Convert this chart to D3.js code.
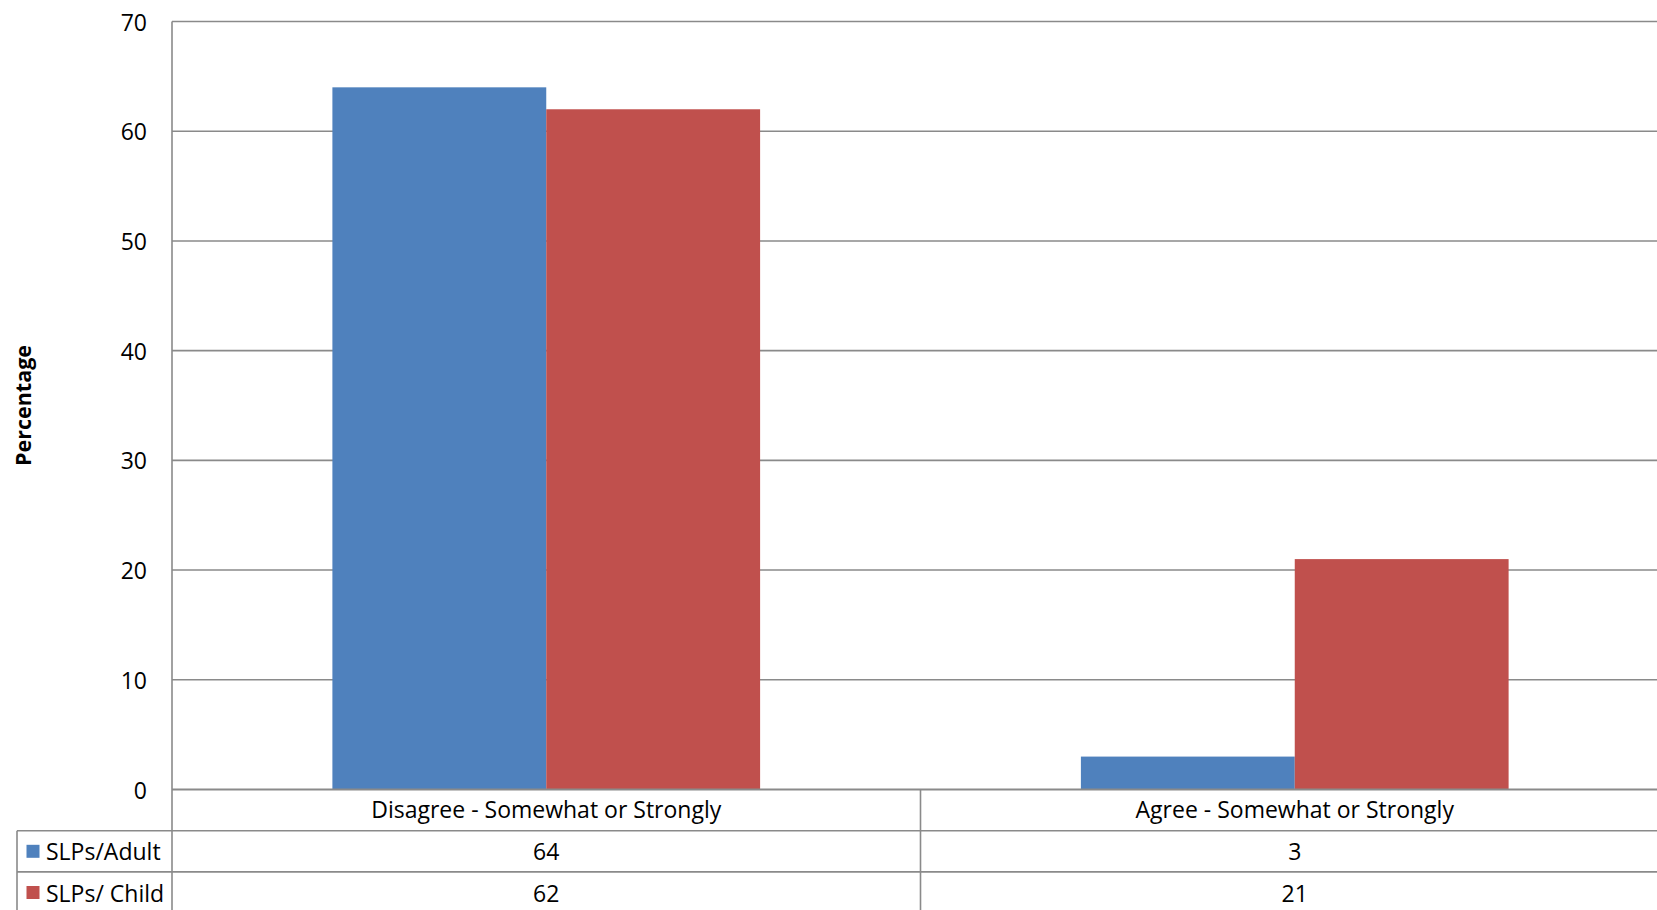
<!DOCTYPE html>
<html>
<head>
<meta charset="utf-8">
<script src="https://cdn.jsdelivr.net/npm/d3@7"></script>
<style>
  html, body { margin: 0; padding: 0; background: #fff; }
  svg { display: block; }
  text { font-family: "Open Sans", "Noto Sans", sans-serif; fill: #000; }
</style>
</head>
<body>
<svg id="chart" width="1657" height="910"></svg>
<script>
// ---- data ----
const categories = ["Disagree - Somewhat or Strongly", "Agree - Somewhat or Strongly"];
const seriesNames = ["SLPs/Adult", "SLPs/ Child"];
const adultValues = [64, 3];
const childValues = [62, 21];
const seriesColors = ["#4F81BD", "#C0504D"];
const yTicks = [0, 10, 20, 30, 40, 50, 60, 70];
const yLabel = "Percentage";

const seriesValues = [adultValues, childValues];

// ---- layout ----
const W = 1657, H = 910;
const plotLeft = 172, plotRight = 1669, plotTop = 21.5, plotBottom = 789.5;
const rowH = 41.2;
const tableLeft = 17;
const fontSize = 23;
const gridColor = "#8a8a8a";

const svg = d3.select("#chart");

const x = d3.scaleBand().domain(categories).range([plotLeft, plotRight]).paddingInner(0).paddingOuter(0);
const xs = d3.scaleBand().domain(seriesNames).range([0, x.bandwidth()]).paddingInner(0).paddingOuter(0.75);
const y = d3.scaleLinear().domain([0, 70]).range([plotBottom, plotTop]);

// gridlines
svg.append("g").selectAll("line").data(yTicks.filter(d => d > 0)).join("line")
  .attr("x1", plotLeft).attr("x2", plotRight)
  .attr("y1", d => y(d)).attr("y2", d => y(d))
  .attr("stroke", gridColor).attr("stroke-width", 1.6);

// bars
const groups = svg.append("g").selectAll("g").data(categories).join("g")
  .attr("transform", d => `translate(${x(d)},0)`);
groups.selectAll("rect").data((c, i) => seriesNames.map((s, j) => ({s, v: seriesValues[j][i], j})))
  .join("rect")
  .attr("x", d => xs(d.s)).attr("width", xs.bandwidth())
  .attr("y", d => y(d.v)).attr("height", d => y(0) - y(d.v))
  .attr("fill", d => seriesColors[d.j]);

// y axis tick labels
svg.append("g").selectAll("text").data(yTicks).join("text")
  .attr("x", 147).attr("y", d => y(d))
  .attr("text-anchor", "end").attr("dominant-baseline", "central")
  .style("font-size", fontSize + "px")
  .text(d => d);

// y label
svg.append("text")
  .attr("transform", `translate(22,${(plotTop + plotBottom) / 2}) rotate(-90)`)
  .attr("text-anchor", "middle").attr("dominant-baseline", "central")
  .style("font-size", "21.5px").style("font-weight", "bold")
  .text(yLabel);

// ---- data table ----
const lines = svg.append("g").attr("stroke", gridColor).attr("stroke-width", 1.6);
lines.append("line").attr("x1", plotLeft).attr("x2", plotRight).attr("y1", y(0)).attr("y2", y(0)).attr("stroke-width", 2);
lines.append("line").attr("x1", plotLeft).attr("x2", plotLeft).attr("y1", plotTop).attr("y2", H + 5);
[1, 2].forEach(r => {
  const yy = plotBottom + rowH * r;
  lines.append("line").attr("x1", tableLeft).attr("x2", plotRight).attr("y1", yy).attr("y2", yy);
});
lines.append("line").attr("x1", tableLeft).attr("x2", tableLeft).attr("y1", plotBottom + rowH).attr("y2", H + 5);
categories.forEach(c => {
  const xx = x(c) + x.bandwidth();
  lines.append("line").attr("x1", xx).attr("x2", xx).attr("y1", plotBottom).attr("y2", H + 5);
});

// category labels
svg.append("g").selectAll("text").data(categories).join("text")
  .attr("x", d => x(d) + x.bandwidth() / 2).attr("y", plotBottom + rowH / 2 - 1)
  .attr("text-anchor", "middle").attr("dominant-baseline", "central")
  .style("font-size", fontSize + "px")
  .text(d => d);

// value rows
seriesNames.forEach((s, j) => {
  const cy = plotBottom + rowH * (j + 1) + rowH / 2;
  svg.append("rect")
    .attr("x", 26.5).attr("y", cy - 6.5).attr("width", 13).attr("height", 13)
    .attr("fill", seriesColors[j]);
  svg.append("text")
    .attr("x", 46).attr("y", cy)
    .attr("dominant-baseline", "central")
    .style("font-size", fontSize + "px")
    .text(s);
  svg.append("g").selectAll("text").data(categories).join("text")
    .attr("x", d => x(d) + x.bandwidth() / 2).attr("y", cy)
    .attr("text-anchor", "middle").attr("dominant-baseline", "central")
    .style("font-size", fontSize + "px")
    .text((d, i) => seriesValues[j][i]);
});
</script>
</body>
</html>
